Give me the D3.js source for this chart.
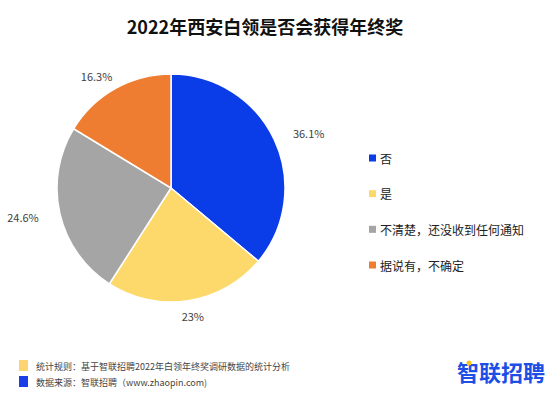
<!DOCTYPE html>
<html>
<head>
<meta charset="utf-8">
<script src="https://cdn.jsdelivr.net/npm/d3@7"></script>
<style>
  body { margin: 0; background: #fff; }
  text { font-family: "Noto Sans CJK SC", "Noto Sans", sans-serif; }
</style>
</head>
<body>
<div id="chart"></div>
<script>
(function(d3) {
  'use strict';

  var categories = ['否', '是', '不清楚，还没收到任何通知', '据说有，不确定'];
  var values = [36.1, 23, 24.6, 16.3];
  var colors = ['#0a3ce8', '#fdd96c', '#a5a5a5', '#ee7d31'];
  var notes = ['统计规则：基于智联招聘2022年白领年终奖调研数据的统计分析',
               '数据来源：智联招聘（www.zhaopin.com)'];
  var noteColors = ['#fdd470', '#1a3ee8'];

  var width = 549, height = 394;
  var cx = 171, cy = 188, radius = 114;

  var svg = d3.select('#chart').append('svg')
    .attr('width', width)
    .attr('height', height);

  svg.append('text')
    .attr('x', 265)
    .attr('y', 26)
    .attr('text-anchor', 'middle')
    .attr('dominant-baseline', 'central')
    .style('font-size', '18px')
    .style('font-weight', 'bold')
    .style('fill', '#111')
    .text('2022年西安白领是否会获得年终奖');

  var data = categories.map(function(c, i) {
    return { label: c, value: values[i], color: colors[i] };
  });

  var pie = d3.pie().value(function(d) { return d.value; }).sort(null);
  var arc = d3.arc().innerRadius(0).outerRadius(radius);
  var g = svg.append('g').attr('transform', 'translate(' + cx + ',' + cy + ')');

  var arcs = pie(data);

  g.selectAll('path')
    .data(arcs)
    .enter()
    .append('path')
    .attr('d', arc)
    .attr('fill', function(d) { return d.data.color; })
    .attr('stroke', '#fff')
    .attr('stroke-width', 1.5);

  // labels outside the pie, pushed sideways by their angle
  var labelR = 129;
  g.selectAll('.lbl')
    .data(arcs)
    .enter()
    .append('text')
    .attr('class', 'lbl')
    .each(function(d) {
      var a = (d.startAngle + d.endAngle) / 2;
      var s = Math.sin(a), c = Math.cos(a);
      var t = d3.select(this).text(d.data.value + '%');
      var w = this.getComputedTextLength();
      t.attr('x', labelR * s + s * w / 2)
       .attr('y', -labelR * c);
    })
    .attr('text-anchor', 'middle')
    .attr('dominant-baseline', 'central')
    .style('font-size', '11px')
    .style('fill', '#404040');

  // legend
  var legendY = d3.scalePoint().domain(categories).range([158, 265]);
  var legend = svg.selectAll('.legend')
    .data(data)
    .enter()
    .append('g')
    .attr('class', 'legend')
    .attr('transform', function(d) { return 'translate(369,' + legendY(d.label) + ')'; });

  legend.append('rect')
    .attr('x', 0)
    .attr('y', -3.5)
    .attr('width', 7)
    .attr('height', 7)
    .attr('fill', function(d) { return d.color; });

  legend.append('text')
    .attr('x', 11)
    .attr('y', 0)
    .attr('dominant-baseline', 'central')
    .style('font-size', '12px')
    .style('fill', '#222')
    .text(function(d) { return d.label; });

  // footer notes
  var noteY = d3.scalePoint().domain(notes).range([366, 382]);
  var note = svg.selectAll('.note')
    .data(notes)
    .enter()
    .append('g')
    .attr('transform', function(d) { return 'translate(19,' + noteY(d) + ')'; });

  note.append('rect')
    .attr('x', 0)
    .attr('y', -6)
    .attr('width', 9)
    .attr('height', 11)
    .attr('fill', function(d, i) { return noteColors[i]; });

  note.append('text')
    .attr('x', 17)
    .attr('y', 0)
    .attr('dominant-baseline', 'central')
    .style('font-size', '9px')
    .style('fill', '#444')
    .text(function(d) { return d; });

  // logo
  svg.append('text')
    .attr('x', 545)
    .attr('y', 371)
    .attr('text-anchor', 'end')
    .attr('dominant-baseline', 'central')
    .style('font-size', '22px')
    .style('font-weight', 'bold')
    .style('fill', '#1d4fe6')
    .text('智联招聘');

  svg.append('circle')
    .attr('cx', 469)
    .attr('cy', 363)
    .attr('r', 2.5)
    .attr('fill', '#fcc419');

})(window.d3);
</script>
</body>
</html>
